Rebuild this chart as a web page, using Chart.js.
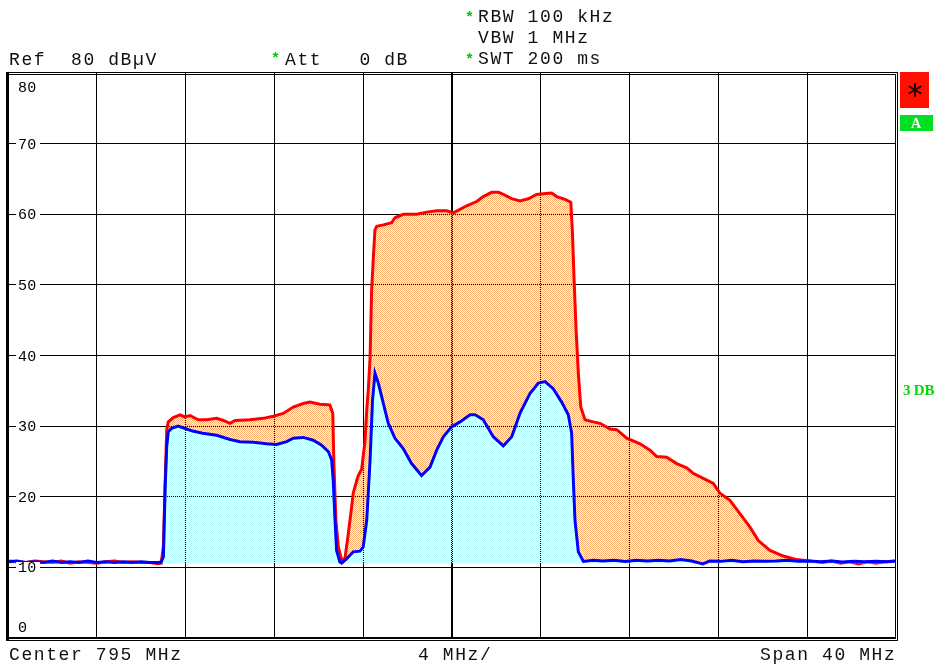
<!DOCTYPE html>
<html>
<head>
<meta charset="utf-8">
<script src="https://cdn.jsdelivr.net/npm/chart.js@4"></script>
<style>
  body { margin: 0; background: #fff; }
  canvas { display: block; }
</style>
</head>
<body>
<canvas id="c" width="944" height="669" style="width:944px;height:669px"></canvas>
<script>
    // trace data (MHz / dBµV)
    const levelTicks = [80, 70, 60, 50, 40, 30, 20, 10, 0];

    const redFreq = [775.0, 775.4, 775.8, 776.2, 776.6, 777.0, 777.4, 777.8, 778.2, 778.6, 779.0, 779.4, 779.8, 780.2, 780.6, 781.0, 781.4, 781.75, 781.9,
        782.0, 782.08, 782.15, 782.22, 782.45, 782.75, 782.95, 783.2, 783.57, 783.95, 784.4, 784.7, 785.0, 785.23, 785.9, 786.5, 786.95, 787.4, 787.85,
        788.3, 788.6, 789.05, 789.5, 789.63, 789.68, 789.77, 789.88, 790.03, 790.18, 790.33, 790.48, 790.55, 790.71, 790.78, 790.93, 791.08, 791.16,
        791.23, 791.31, 791.38, 791.46, 791.53, 791.61, 791.91, 792.28, 792.43, 792.81, 793.41, 793.86, 794.31, 794.76, 795.06, 795.36, 795.66, 796.11,
        796.41, 796.79, 797.09, 797.31, 797.69, 798.06, 798.44, 798.81, 799.11, 799.49, 799.72, 800.09, 800.35, 800.42, 800.5, 800.59, 800.69, 800.8,
        800.99, 801.36, 801.67, 802.12, 802.42, 802.87, 803.47, 803.92, 804.22, 804.67, 805.12, 805.57, 805.87, 806.32, 806.77, 807.07, 807.52, 807.97,
        808.42, 808.8, 809.32, 809.92, 810.53, 811.27, 811.7, 812.1, 812.5, 812.9, 813.3, 813.7, 814.1, 814.5, 815.0];
    const redLevel = [10.9, 10.8, 10.7, 10.9, 10.8, 10.7, 10.9, 10.6, 10.8, 10.7, 10.6, 10.8, 10.9, 10.7, 10.8, 10.7, 10.7, 10.5, 10.6,
        13.0, 22.0, 29.5, 30.6, 31.2, 31.6, 31.3, 31.5, 30.9, 30.9, 31.1, 30.8, 30.4, 30.8, 30.9, 31.1, 31.4, 31.8, 32.7,
        33.2, 33.4, 33.1, 33.0, 31.8, 24.7, 16.7, 12.9, 11.0, 11.3, 14.8, 18.6, 20.5, 22.3, 23.0, 23.9, 27.8, 32.3,
        35.1, 39.7, 49.3, 54.0, 57.8, 58.3, 58.5, 58.8, 59.5, 60.0, 60.0, 60.3, 60.5, 60.5, 60.2, 60.7, 61.2, 61.8,
        62.5, 63.1, 63.1, 62.8, 62.2, 61.9, 62.2, 62.8, 62.9, 63.0, 62.5, 62.1, 61.7, 57.8, 50.7, 43.6, 37.5, 32.7,
        30.9, 30.6, 30.4, 29.6, 29.5, 28.3, 27.5, 26.6, 25.7, 25.6, 24.7, 24.1, 23.3, 22.6, 21.9, 20.5, 19.5, 17.6,
        15.7, 13.8, 12.4, 11.6, 11.1, 10.85, 10.7, 10.9, 10.6, 10.8, 10.5, 10.8, 10.6, 10.8, 10.9];

    const blueFreq = [775.0, 775.4, 775.8, 776.2, 776.6, 777.0, 777.4, 777.8, 778.2, 778.6, 779.0, 779.4, 779.8, 780.2, 780.6, 781.0, 781.4, 781.75, 781.9,
        782.0, 782.08, 782.15, 782.22, 782.37, 782.66, 782.95, 783.32, 783.77, 784.4, 785.0, 785.45, 786.05, 786.65, 787.1, 787.55, 787.85, 788.3,
        788.75, 789.13, 789.43, 789.58, 789.65, 789.73, 789.8, 789.95, 790.03, 790.25, 790.55, 790.85, 791.0, 791.16, 791.31, 791.42, 791.53, 791.68,
        791.91, 792.13, 792.43, 792.81, 793.18, 793.63, 794.01, 794.31, 794.61, 794.98, 795.36, 795.81, 796.04, 796.41, 796.86, 797.31, 797.69, 798.06,
        798.51, 798.89, 799.19, 799.56, 799.94, 800.24, 800.39, 800.46, 800.54, 800.69, 800.92, 801.36, 801.8, 802.3, 802.8, 803.3, 803.8, 804.3,
        804.8, 805.3, 805.8, 806.3, 806.6, 807.1, 807.6, 808.1, 808.6, 809.1, 809.6, 810.1, 810.6, 811.1, 811.6, 812.1, 812.6, 813.1, 813.6, 814.1,
        814.6, 815.0];
    const blueLevel = [10.8, 10.9, 10.7, 10.8, 10.7, 10.9, 10.7, 10.8, 10.7, 10.9, 10.7, 10.8, 10.7, 10.8, 10.7, 10.8, 10.7, 10.7, 10.75,
        11.5, 21.4, 27.1, 29.2, 29.7, 30.0, 29.7, 29.3, 29.0, 28.7, 28.1, 27.8, 27.7, 27.5, 27.4, 27.8, 28.3, 28.4,
        28.0, 27.3, 26.4, 25.2, 22.3, 16.7, 12.4, 10.75, 10.6, 11.2, 12.2, 12.3, 12.9, 16.7, 25.2, 33.7, 37.5, 36.1,
        33.2, 30.4, 28.3, 26.8, 24.7, 23.0, 24.2, 26.6, 28.5, 29.9, 30.6, 31.6, 31.6, 30.9, 28.5, 27.2, 28.5, 31.8,
        34.6, 36.1, 36.3, 35.3, 33.4, 31.6, 29.0, 22.8, 16.7, 12.2, 10.85, 11.0, 10.9, 11.0, 10.85, 11.0, 10.9, 11.0,
        10.9, 11.1, 10.9, 10.5, 10.9, 10.85, 11.0, 10.8, 10.9, 10.85, 10.9, 11.0, 10.85, 10.9, 10.8, 10.9, 10.75, 10.85, 10.8, 10.85,
        10.8, 10.9];

    const canvas = document.getElementById('c');
    const ctx = canvas.getContext('2d');

    function checker(color) {
        const tile = document.createElement('canvas');
        tile.width = 2;
        tile.height = 2;
        const t = tile.getContext('2d');
        t.fillStyle = color;
        t.fillRect(0, 0, 1, 1);
        t.fillRect(1, 1, 1, 1);
        return ctx.createPattern(tile, 'repeat');
    }

    function toPoints(xs, ys) {
        return xs.map((x, i) => ({ x: x, y: ys[i] }));
    }

    function mono(c, text, x, y, adv) {
        for (let i = 0; i < text.length; i++) {
            c.fillText(text[i], x + i * adv, y);
        }
    }

    const screenPlugin = {
        id: 'screen',
        afterDraw(chart) {
            const c = chart.ctx;
            const yScale = chart.scales.y;
            c.save();

            // frame
            c.fillStyle = '#000';
            c.fillRect(7, 72, 891, 1);
            c.fillRect(7, 74, 889, 1);
            c.fillRect(7, 637, 889, 2);
            c.fillRect(7, 640, 891, 1);
            c.fillRect(6, 72, 3, 569);
            c.fillRect(895, 74, 1, 564);
            c.fillRect(897, 72, 1, 569);

            // level labels inside the grid
            c.font = '15px "Liberation Mono"';
            c.textBaseline = 'middle';
            levelTicks.forEach(v => {
                let y = Math.round(yScale.getPixelForValue(v));
                if (v === 80) y += 14;
                if (v === 0) y -= 11;
                c.fillStyle = '#fff';
                c.fillRect(16, y - 5, 24, 10);
                c.fillStyle = '#000';
                mono(c, String(v), 18, y + 1, 9.3);
            });

            // header / footer text
            c.font = '18px "Liberation Mono"';
            c.textBaseline = 'alphabetic';
            c.fillStyle = '#111';
            mono(c, 'Ref  80 dBµV', 9, 65, 12.4);
            mono(c, 'Att   0 dB', 285, 65, 12.4);
            mono(c, 'RBW 100 kHz', 478, 22, 12.4);
            mono(c, 'VBW 1 MHz', 478, 43, 12.4);
            mono(c, 'SWT 200 ms', 478, 64, 12.4);
            mono(c, 'Center 795 MHz', 9, 660, 12.4);
            mono(c, '4 MHz/', 418, 660, 12.4);
            mono(c, 'Span 40 MHz', 760, 660, 12.4);

            c.fillStyle = '#00c800';
            c.font = 'bold 15px "Liberation Mono"';
            c.fillText('*', 271, 63);
            c.fillText('*', 465, 22);
            c.fillText('*', 465, 64);

            // side markers
            c.fillStyle = '#ff1000';
            c.fillRect(900, 72, 29, 36);
            c.fillStyle = '#000';
            c.font = '30px "DejaVu Sans"';
            c.textAlign = 'center';
            c.fillText('*', 915, 105);
            c.fillStyle = '#00e020';
            c.fillRect(900, 115, 33, 16);
            c.fillStyle = '#fff';
            c.font = 'bold 14px "Liberation Serif"';
            c.fillText('A', 916, 128);
            c.textAlign = 'left';
            c.fillStyle = '#00d800';
            c.font = 'bold 15px "Liberation Serif"';
            mono(c, '3DB', 903, 395, 10.8);

            c.restore();
        }
    };

    new Chart(ctx, {
        type: 'line',
        data: {
            datasets: [{
                label: 'Trace 2',
                data: toPoints(blueFreq, blueLevel),
                borderColor: '#0000ff',
                backgroundColor: checker('#b8ffff'),
                borderWidth: 3,
                pointRadius: 0,
                fill: { value: 10.6 }
            }, {
                label: 'Trace 1',
                data: toPoints(redFreq, redLevel),
                borderColor: '#ff0000',
                backgroundColor: checker('#ffb070'),
                borderWidth: 3,
                pointRadius: 0,
                fill: { value: 10.6 }
            }]
        },
        options: {
            responsive: false,
            animation: false,
            devicePixelRatio: 1,
            layout: { padding: { left: 8, right: 48, top: 73, bottom: 31 } },
            plugins: {
                legend: { display: false },
                tooltip: { enabled: false }
            },
            scales: {
                x: {
                    type: 'linear',
                    min: 775,
                    max: 815,
                    ticks: { display: false, stepSize: 4 },
                    border: { display: false },
                    grid: {
                        drawTicks: false,
                        color: '#000',
                        lineWidth: c => (c.tick.value === 775 || c.tick.value === 815) ? 0 : (c.tick.value === 795 ? 2 : 1)
                    }
                },
                y: {
                    min: 0,
                    max: 80,
                    ticks: { display: false, stepSize: 10 },
                    border: { display: false },
                    grid: {
                        drawTicks: false,
                        color: '#000',
                        lineWidth: c => (c.tick.value === 0 || c.tick.value === 80) ? 0 : 1
                    }
                }
            }
        },
        plugins: [screenPlugin]
    });
</script>
</body>
</html>
